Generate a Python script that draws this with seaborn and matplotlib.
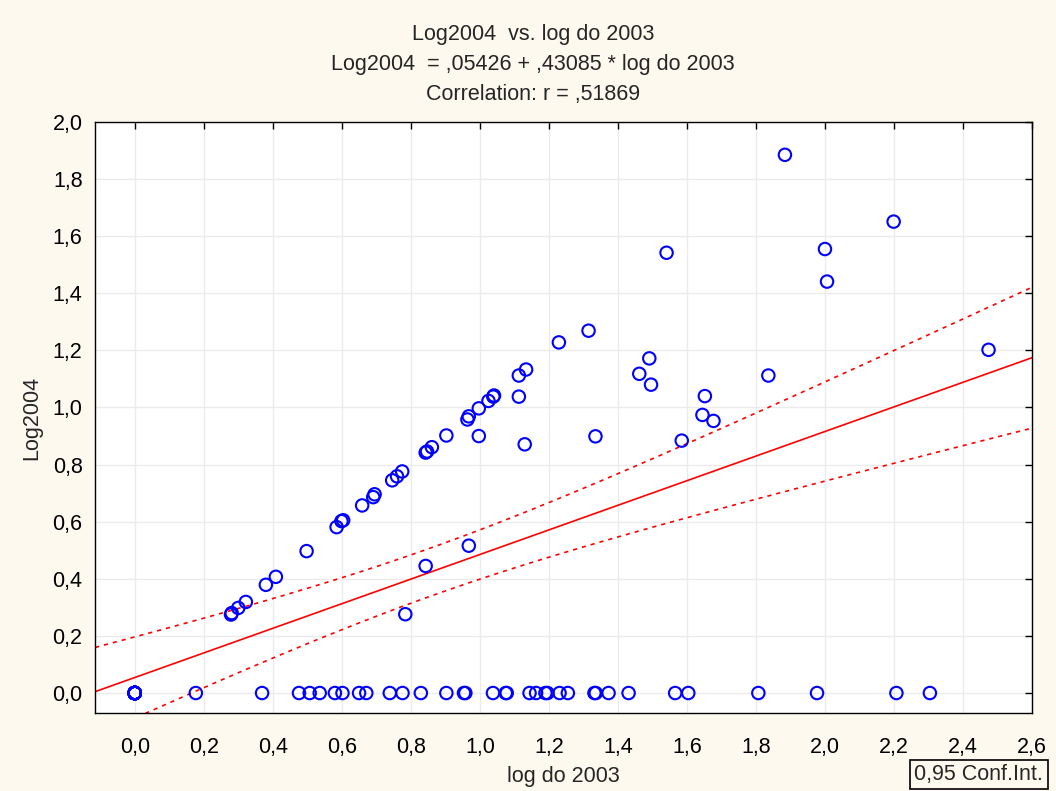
import numpy as np
import matplotlib
matplotlib.use('Agg')
import matplotlib.pyplot as plt
import seaborn as sns
from matplotlib.ticker import FuncFormatter, MultipleLocator

# pontos com Log2004 = 0 (22 deles sobrepostos na origem)
n_origem = 22
x_zero = [0.177, 0.369, 0.476, 0.507, 0.536, 0.580, 0.602,
          0.650, 0.671, 0.739, 0.776, 0.829, 0.903, 0.954, 0.958, 1.038, 1.075,
          1.078, 1.144, 1.163, 1.190, 1.196, 1.231, 1.255, 1.332, 1.336, 1.373,
          1.431, 1.566, 1.604, 1.807, 1.977, 2.207, 2.304]

# demais pontos (log do 2003, Log2004)
x_pos = [0.279, 0.281, 0.300, 0.322, 0.380, 0.409, 0.498, 0.585, 0.599, 0.604,
         0.659, 0.691, 0.695, 0.746, 0.760, 0.775, 0.843, 0.847, 0.861, 0.903,
         0.964, 0.968, 0.997, 0.997, 0.968, 0.843, 0.784, 1.025, 1.039, 1.041,
         1.113, 1.134, 1.113, 1.130, 1.229, 1.315, 1.335, 1.462, 1.491, 1.496,
         1.541, 1.585, 1.652, 1.645, 1.677, 1.836, 1.884, 2.000, 2.006, 2.199,
         2.474]
y_pos = [0.275, 0.280, 0.298, 0.319, 0.379, 0.407, 0.497, 0.581, 0.602, 0.605,
         0.657, 0.686, 0.696, 0.745, 0.759, 0.776, 0.842, 0.846, 0.861, 0.902,
         0.958, 0.969, 0.997, 0.900, 0.516, 0.445, 0.276, 1.023, 1.038, 1.042,
         1.112, 1.133, 1.038, 0.871, 1.228, 1.269, 0.899, 1.118, 1.172, 1.080,
         1.542, 0.884, 1.040, 0.974, 0.953, 1.112, 1.885, 1.555, 1.441, 1.651,
         1.202]

intercept = 0.05426
slope = 0.43085
t95 = 1.985

x = np.array([0.0] * n_origem + x_zero + x_pos)
y = np.array([0.0] * (n_origem + len(x_zero)) + y_pos)

# faixa de confiança de 95% da reta
n = len(x)
resid = y - (intercept + slope * x)
s = np.sqrt((resid ** 2).sum() / (n - 2))
sxx = ((x - x.mean()) ** 2).sum()
xl = np.linspace(-0.115, 2.6, 100)
yl = intercept + slope * xl
half = t95 * s * np.sqrt(1 / n + (xl - x.mean()) ** 2 / sxx)

bg = '#FDF9EE'
fs = 15.5
sns.set_style('white')
plt.rcParams['font.family'] = ['Liberation Sans', 'DejaVu Sans']

fig = plt.figure(figsize=(10.56, 7.91), dpi=100, facecolor=bg)
ax = fig.add_axes([0.0900, 0.0986, 0.8873, 0.7472])
ax.set_facecolor('white')

ax.plot(xl, yl, color='red', lw=1.2)
ax.plot(xl, yl + half, color='red', lw=1.2, ls=(0, (2.5, 3)))
ax.plot(xl, yl - half, color='red', lw=1.2, ls=(0, (2.5, 3)))

sns.scatterplot(x=x, y=y, ax=ax, marker='o', s=80, facecolors='none',
                edgecolors='#0000FF', linewidth=1.5, zorder=3)
ax.collections[0].set_facecolor('none')

ax.set_xlim(-0.115, 2.6)
ax.set_ylim(-0.07, 2.0)
ax.xaxis.set_major_locator(MultipleLocator(0.2))
ax.yaxis.set_major_locator(MultipleLocator(0.2))
fmt = FuncFormatter(lambda v, p: f'{v:.1f}'.replace('.', ','))
ax.xaxis.set_major_formatter(fmt)
ax.yaxis.set_major_formatter(fmt)
ax.grid(True, color='#EBEBEB', lw=1)
ax.tick_params(direction='in', length=5, width=1, colors='black', labelsize=fs,
               top=True, right=True)
ax.tick_params(axis='x', pad=17)
ax.tick_params(axis='y', pad=9)
for sp in ax.spines.values():
    sp.set_visible(True)
    sp.set_color('black')
    sp.set_linewidth(1)

ax.set_xlabel('log do 2003', fontsize=fs, labelpad=6)
ax.set_ylabel('Log2004', fontsize=fs, labelpad=7)

fig.text(0.505, 0.956, 'Log2004  vs. log do 2003', ha='center', va='center', fontsize=fs)
fig.text(0.505, 0.918, 'Log2004  = ,05426 + ,43085 * log do 2003', ha='center', va='center', fontsize=fs)
fig.text(0.505, 0.880, 'Correlation: r = ,51869', ha='center', va='center', fontsize=fs)

fig.text(0.927, 0.021, '0,95 Conf.Int.', ha='center', va='center', fontsize=fs,
         bbox=dict(boxstyle='square,pad=0.2', fc=bg, ec='black', lw=1.2))

fig.savefig('out.png', dpi=100, facecolor=bg)
